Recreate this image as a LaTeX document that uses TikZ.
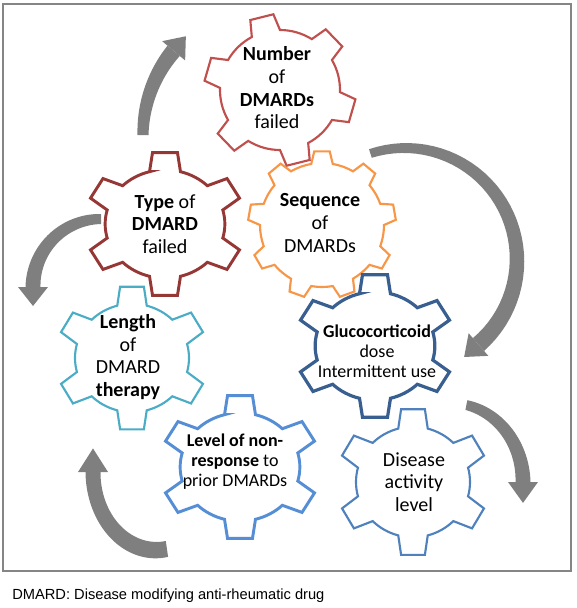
\documentclass[tikz,border=0pt]{standalone}
\usepackage{fontspec}
\setmainfont{Carlito}
\newfontfamily\arialf{Liberation Sans}
\usetikzlibrary{arrows.meta}
\definecolor{numred}{HTML}{C0504D}
\definecolor{typered}{HTML}{953735}
\definecolor{seqorange}{HTML}{F79646}
\definecolor{glucoblue}{HTML}{385F8F}
\definecolor{lenteal}{HTML}{4BACC6}
\definecolor{levelblue}{HTML}{558ED5}
\definecolor{disblue}{HTML}{4F81BD}
\definecolor{arrowgray}{HTML}{7F7F7F}
\definecolor{framegray}{HTML}{858585}
\tikzset{
  gearline/.style={line width=1.6pt, fill=white, line join=miter},
  gearthick/.style={line width=2.4pt, fill=white, line join=miter},
  gtext/.style={align=center, inner sep=0pt, font=\fontsize{15}{17}\selectfont},
  gtextsm/.style={align=center, inner sep=0pt, font=\fontsize{13.5}{15}\selectfont},
  framebox/.style={draw=framegray, line width=1.5pt},
  arrowfill/.style={fill=arrowgray},
}
% gear: #1 center, #2 xscale, #3 yscale, #4 first tooth angle, #5 style
\newcommand\geardraw[5]{%
  \begin{scope}[shift={(#1)}, xscale=#2, yscale=#3]
    \pgfmathsetmacro\gst{360/\gn}
    \pgfmathtruncatemacro\gm{\gn-1}
    \draw[#5] ({#4-\gai}:\gri)
      \foreach \k in {0,...,\gm} {
        -- ({#4+\k*\gst-\gao}:\gro) -- ({#4+\k*\gst+\gao}:\gro)
        -- ({#4+\k*\gst+\gai}:\gri)
        arc[start angle={#4+\k*\gst+\gai}, end angle={#4+(\k+1)*\gst-\gai}, radius=\gri]
      } -- cycle;
  \end{scope}}
% tapered curved arrow: #1 center, #2 xscale, #3 yscale, #4 radius,
% #5 start angle, #6 end angle, #7 tail width, #8 end width, #9 direction sign
\def\aW{30}\def\aL{19}
\newcommand\taparrow[9]{%
  \begin{scope}[shift={(#1)}, xscale=#2, yscale=#3]
    \fill[arrowfill] plot[domain=#5:#6, samples=40]
        (\x:{#4+(#7+(#8-#7)*(\x-(#5))/((#6)-(#5)))/2})
      -- plot[domain=#6:#5, samples=40]
        (\x:{#4-(#7+(#8-#7)*(\x-(#5))/((#6)-(#5)))/2}) -- cycle;
    \fill[arrowfill] (#6:{#4+\aW/2})
      -- ({#6+#9*atan(\aL/#4)}:{#4*sqrt(1+(\aL/#4)*(\aL/#4))})
      -- (#6:{#4-\aW/2}) -- cycle;
  \end{scope}}
\begin{document}
\begin{tikzpicture}[x=0.75pt, y=-0.75pt]
\useasboundingbox (0,0) rectangle (576,608);
\draw[framebox] (3,4) rectangle (571,571);

% curved arrows (decorative, around the cycle)
\taparrow{274,135}{1}{1}{131}{180}{220}{11}{16}{1}
\taparrow{405,260}{1}{1}{112}{-108}{49}{9}{17}{1}
\taparrow{101,287}{1}{1}{68}{270}{180}{10}{15}{-1}
\taparrow{156,472}{1}{1.24}{63}{80}{180}{13}{15}{1}
\taparrow{451.5,482}{1}{1.1}{71.5}{-78}{0}{9}{15}{1}

% gears
\def\gn{6}\def\gro{76}\def\gri{60}\def\gao{9}\def\gai{14}
\geardraw{280,90}{1}{1}{-104}{gearline, draw=numred}
\def\gn{9}\def\gro{74}\def\gri{62}\def\gao{6}\def\gai{10}
\geardraw{322,225}{1}{1}{-90}{gearline, draw=seqorange}
\def\gn{6}\def\gro{76}\def\gri{57}\def\gao{9}\def\gai{15}
\geardraw{165,224}{1.05}{0.95}{-90}{gearthick, line width=2.2pt, draw=typered}
\geardraw{375,346}{1.05}{0.95}{-90}{gearthick, draw=glucoblue}
\geardraw{132,358}{1.0}{0.95}{-90}{gearline, draw=lenteal}
\geardraw{240,467}{1.05}{0.95}{-90}{gearthick, line width=2.2pt, draw=levelblue}
\geardraw{413,482}{1.0}{0.97}{-90}{gearline, draw=disblue}

% texts
\node[gtext] (num) at (277,88) {\textbf{Number}\\of\\\textbf{DMARDs}\\failed};
\node[gtext] (type) at (165,224) {\textbf{Type} of\\\textbf{DMARD}\\failed};
\node[gtext] (seq) at (320,223) {\textbf{Sequence}\\of\\DMARDs};
\node[gtextsm] (gluco) at (377,351) {\textbf{Glucocorticoid}\\dose\\Intermittent use};
\node[gtext] (len) at (128,357) {\textbf{Length}\\of\\DMARD\\\textbf{therapy}};
\node[gtextsm] (level) at (235,462) {\textbf{Level of non-}\\\textbf{response} to\\prior DMARDs};
\node[gtext] (dis) at (414,482) {Disease\\activity\\level};

\node[anchor=west, inner sep=0pt, font=\arialf\fontsize{11}{13}\selectfont] (foot) at (12,596) {DMARD: Disease modifying anti-rheumatic drug};
\end{tikzpicture}
\end{document}
